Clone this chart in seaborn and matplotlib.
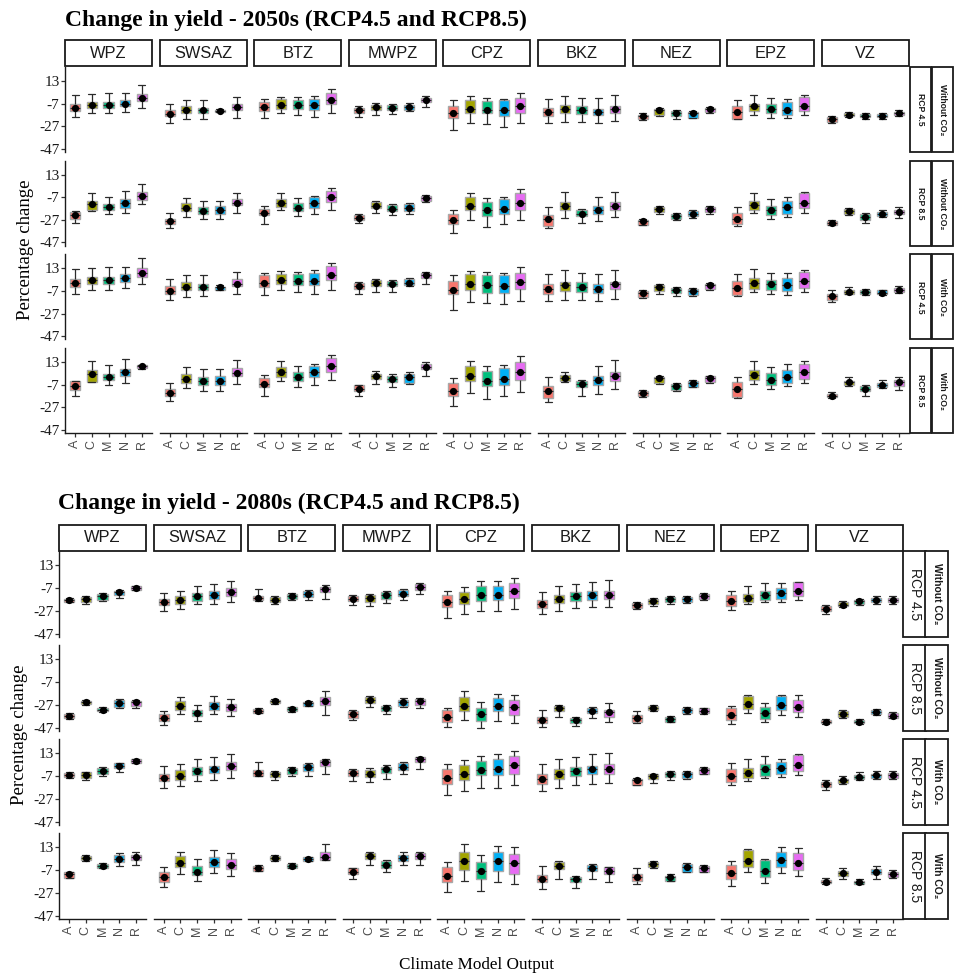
import numpy as np
import pandas as pd
import matplotlib
matplotlib.use("Agg")
import matplotlib.pyplot as plt
import seaborn as sns
from matplotlib.patches import Rectangle

# ---------------- data ----------------
ZONES = ["WPZ", "SWSAZ", "BTZ", "MWPZ", "CPZ", "BKZ", "NEZ", "EPZ", "VZ"]
MODELS = ["A", "C", "M", "N", "R"]
PALETTE = ["#F8766D", "#A3A500", "#00BF7D", "#00B0F6", "#E76BF3"]
ROW_RCP = ["RCP 4.5", "RCP 8.5", "RCP 4.5", "RCP 8.5"]
ROW_CO2 = ["Without CO\u2082", "Without CO\u2082", "With CO\u2082", "With CO\u2082"]
TITLES = ["Change in yield - 2050s (RCP4.5 and RCP8.5)",
          "Change in yield - 2080s (RCP4.5 and RCP8.5)"]
YTICKS = [13, -7, -27, -47]
YLABEL = "Percentage change"
XLABEL = "Climate Model Output"

# each tuple: (whisker low, box low, box high, whisker high, mean)  per model A,C,M,N,R
Y2050_R45_NOCO2 = [
    [(-18.8, -13.5, -7.6, 1.0, -10.5), (-15.2, -10.5, -5.5, 1.8, -8.5), (-15.8, -10.5, -5.5, 2.7, -8.5), (-14.4, -9.4, -4.0, 2.4, -7.0), (-10.8, -5.0, 1.2, 9.8, -1.7)],
    [(-23.8, -18.2, -12.3, -7.0, -16.4), (-20.8, -15.2, -9.4, -4.0, -12.9), (-20.5, -15.8, -10.5, -3.5, -12.9), (-14.7, -14.4, -12.3, -11.8, -13.5), (-19.4, -12.9, -7.0, -1.1, -10.0)],
    [(-19.6, -13.8, -5.5, -3.2, -10.0), (-15.0, -12.0, -3.2, -0.8, -7.9), (-17.0, -12.0, -3.5, -1.1, -8.2), (-18.5, -12.3, -2.6, 0.1, -7.9), (-15.0, -7.6, 2.7, 5.9, -3.5)],
    [(-18.8, -15.2, -10.5, -9.4, -12.9), (-16.7, -12.9, -7.9, -6.4, -10.0), (-16.4, -12.9, -8.5, -7.6, -10.5), (-13.5, -12.9, -7.9, -6.4, -10.0), (-10.0, -5.8, -1.7, -0.5, -4.0)],
    [(-30.5, -19.4, -8.8, -4.0, -15.2), (-24.0, -15.2, -3.5, -0.2, -11.4), (-25.5, -15.8, -5.0, -1.7, -12.9), (-27.6, -17.6, -4.0, -2.9, -12.9), (-24.0, -15.0, -2.0, 2.4, -9.4)],
    [(-24.6, -18.2, -10.5, -3.2, -14.4), (-23.2, -15.2, -7.9, -0.2, -12.0), (-23.2, -16.4, -9.4, -2.0, -12.9), (-23.8, -17.3, -11.4, -1.7, -14.4), (-22.3, -15.2, -8.8, 0.4, -11.4)],
    [(-21.7, -21.1, -16.7, -15.8, -18.2), (-18.2, -17.3, -11.4, -10.5, -12.9), (-20.8, -17.9, -13.8, -12.9, -15.2), (-20.2, -19.6, -14.9, -13.8, -15.8), (-15.8, -14.6, -10.5, -10.0, -12.0)],
    [(-20.5, -20.5, -9.4, -3.5, -14.4), (-16.7, -13.8, -7.0, 1.0, -9.4), (-19.4, -15.8, -7.6, -2.3, -11.4), (-20.0, -16.7, -5.5, -2.9, -12.3), (-16.7, -13.8, -1.1, 0.4, -8.8)],
    [(-23.8, -23.2, -18.8, -17.6, -20.8), (-18.8, -17.9, -15.2, -14.1, -16.7), (-20.5, -19.1, -16.0, -15.5, -17.6), (-20.5, -19.1, -16.0, -15.5, -17.6), (-17.9, -16.7, -14.4, -12.9, -15.2)],
]
Y2050_R85_NOCO2 = [
    [(-30.0, -26.3, -20.0, -19.1, -23.0), (-19.4, -18.5, -10.4, -2.9, -13.1), (-21.5, -18.5, -13.1, -6.5, -15.8), (-20.6, -16.1, -8.9, -1.7, -11.9), (-13.4, -9.5, -2.0, 4.9, -5.6)],
    [(-34.4, -30.5, -26.0, -20.6, -28.1), (-24.5, -19.4, -12.5, -8.0, -16.7), (-26.6, -21.5, -15.5, -10.1, -19.1), (-26.6, -21.5, -15.0, -10.1, -18.5), (-20.6, -14.0, -8.6, -2.9, -11.9)],
    [(-31.1, -23.0, -17.0, -14.6, -20.9), (-18.5, -15.5, -8.6, -3.5, -11.9), (-24.0, -19.4, -11.9, -7.7, -16.1), (-21.5, -16.1, -7.1, -5.6, -12.5), (-18.5, -11.3, -1.7, 1.0, -7.1)],
    [(-30.0, -27.5, -23.0, -22.1, -25.1), (-20.9, -16.1, -11.6, -10.4, -14.3), (-23.0, -19.4, -14.0, -13.1, -17.0), (-21.5, -19.1, -13.1, -11.9, -16.1), (-11.6, -10.4, -5.6, -4.7, -7.4)],
    [(-38.6, -30.5, -21.5, -17.9, -26.9), (-27.5, -18.5, -6.5, -3.5, -14.6), (-33.0, -24.0, -11.0, -8.0, -18.5), (-30.5, -21.5, -8.9, -6.5, -17.6), (-27.0, -17.9, -3.5, 0.4, -11.9)],
    [(-34.4, -32.3, -22.4, -15.5, -26.6), (-25.4, -18.5, -11.0, -2.6, -14.6), (-30.0, -24.0, -18.5, -17.6, -21.5), (-28.1, -21.5, -15.0, -6.5, -17.9), (-24.5, -18.5, -11.0, -2.6, -14.6)],
    [(-32.0, -31.5, -27.0, -26.0, -28.4), (-21.5, -20.0, -15.5, -14.6, -17.6), (-27.5, -26.6, -21.5, -20.6, -24.0), (-25.1, -24.0, -19.4, -18.5, -21.5), (-21.5, -20.0, -15.5, -14.6, -17.0)],
    [(-32.6, -31.0, -20.6, -15.5, -26.0), (-20.6, -17.9, -10.1, -3.5, -14.0), (-26.0, -23.0, -14.6, -8.6, -17.9), (-24.5, -21.5, -10.1, -6.5, -15.5), (-20.6, -16.1, -3.5, -2.6, -11.9)],
    [(-32.0, -31.4, -28.1, -27.5, -30.0), (-22.4, -21.5, -17.6, -16.1, -19.4), (-29.9, -27.5, -22.1, -20.6, -24.5), (-24.5, -23.6, -20.0, -17.9, -21.5), (-25.1, -22.1, -17.9, -15.5, -20.0)],
]
Y2050_R45_CO2 = [
    [(-9.3, -3.3, 3.8, 12.7, 0.2), (-5.7, -1.2, 5.6, 13.6, 2.6), (-6.3, -1.2, 5.6, 14.5, 2.6), (-4.2, 1.1, 7.7, 14.5, 4.1), (-1.0, 5.6, 13.0, 22.2, 9.1)],
    [(-14.6, -9.3, -2.7, 3.8, -6.9), (-12.2, -6.3, 1.1, 6.8, -3.3), (-11.6, -6.3, -0.4, 7.1, -3.3), (-6.3, -5.7, -3.3, -2.1, -3.6), (-10.1, -2.7, 3.8, 10.0, -0.6)],
    [(-10.7, -3.3, 6.8, 9.1, 0.2), (-5.7, -1.2, 8.3, 10.6, 2.6), (-7.8, -1.8, 7.7, 10.0, 2.0), (-9.3, -1.8, 9.1, 11.5, 2.3), (-5.7, 3.2, 15.1, 18.0, 7.4)],
    [(-9.9, -5.1, 0.2, 1.1, -2.7), (-7.5, -2.7, 2.6, 3.8, 0.2), (-7.8, -2.7, 1.7, 2.6, -0.6), (-2.7, -2.1, 3.8, 4.4, 0.2), (-1.0, 4.7, 9.1, 10.0, 6.8)],
    [(-23.5, -10.1, 1.7, 6.8, -5.7), (-16.4, -5.7, 7.7, 10.6, -1.2), (-17.6, -8.7, 6.8, 9.7, -2.1), (-19.0, -8.7, 6.8, 8.6, -2.7), (-16.1, -5.1, 9.1, 14.5, 1.1)],
    [(-16.1, -9.3, -0.4, 8.3, -4.8), (-15.2, -6.6, 1.1, 11.2, -2.1), (-15.2, -7.8, 0.8, 9.1, -3.3), (-16.1, -8.7, -1.2, 8.3, -4.8), (-14.0, -5.1, 1.1, 11.5, -1.2)],
    [(-13.1, -12.5, -7.2, -6.3, -8.7), (-9.3, -7.2, -1.8, -0.4, -3.6), (-11.6, -8.7, -4.2, -3.3, -5.7), (-11.6, -10.7, -5.1, -4.2, -6.9), (-6.3, -5.1, -0.6, 0.2, -2.1)],
    [(-11.6, -10.7, 1.7, 7.7, -4.5), (-8.1, -4.8, 4.1, 12.7, 0.2), (-10.1, -6.3, 3.2, 9.1, -1.2), (-10.7, -7.2, 4.7, 8.6, -2.1), (-7.8, -4.2, 9.7, 11.5, 1.7)],
    [(-16.4, -14.6, -9.3, -5.7, -11.6), (-10.1, -9.3, -5.7, -3.3, -7.8), (-10.7, -10.1, -6.3, -5.1, -8.1), (-10.7, -10.1, -6.3, -5.7, -8.7), (-8.7, -7.8, -4.2, -2.7, -6.3)],
]
Y2050_R85_CO2 = [
    [(-17.3, -11.3, -3.9, -3.3, -7.8), (-4.8, -4.5, 5.9, 13.9, 2.6), (-6.9, -3.0, 2.9, 10.3, 0.0), (-5.4, 0.5, 7.1, 16.0, 4.1), (7.1, 7.4, 10.3, 10.9, 9.4)],
    [(-21.7, -17.3, -10.7, -5.4, -14.3), (-9.8, -5.4, 2.6, 8.5, -1.8), (-12.2, -6.9, -0.4, 7.1, -3.9), (-12.8, -6.9, 0.5, 7.1, -3.9), (-6.0, 0.5, 8.0, 14.5, 3.5)],
    [(-17.3, -9.3, -0.9, 2.0, -6.3), (-3.3, 0.0, 8.8, 13.9, 4.1), (-9.0, -3.9, 4.1, 9.4, -0.4), (-6.9, 0.0, 10.0, 11.8, 4.1), (-3.0, 4.4, 16.3, 19.2, 9.4)],
    [(-16.7, -12.8, -7.5, -6.9, -10.4), (-6.3, -1.8, 2.9, 5.6, 0.8), (-9.3, -4.5, 0.5, 2.6, -1.8), (-6.3, -5.4, 2.9, 4.1, 0.0), (0.5, 6.5, 11.8, 13.0, 8.8)],
    [(-26.2, -17.3, -5.4, -1.5, -12.2), (-14.3, -3.9, 9.4, 13.9, 1.1), (-19.3, -8.4, 5.6, 9.4, -3.3), (-17.3, -6.9, 7.4, 10.9, -1.8), (-13.7, -3.0, 13.3, 18.3, 4.1)],
    [(-22.3, -18.8, -7.8, 0.0, -12.8), (-4.5, -3.9, 1.4, 4.1, -1.2), (-17.3, -9.3, -3.3, -2.4, -6.3), (-14.9, -6.9, 0.5, 10.0, -2.4), (-10.7, -3.3, 4.4, 14.8, 1.1)],
    [(-17.9, -17.3, -12.8, -11.9, -14.3), (-6.3, -5.4, -0.4, 1.1, -1.5), (-12.8, -11.9, -6.3, -5.4, -8.4), (-9.3, -9.0, -3.9, -3.0, -5.4), (-5.4, -4.8, 0.5, 0.8, -0.9)],
    [(-18.8, -18.2, -4.8, 0.0, -10.7), (-6.3, -3.0, 5.9, 13.9, 2.0), (-10.7, -6.9, 3.5, 8.8, -2.4), (-8.4, -5.4, 5.9, 11.5, 0.0), (-5.4, -1.8, 11.5, 13.9, 4.1)],
    [(-18.8, -17.9, -15.2, -13.1, -16.7), (-7.8, -6.9, -3.3, -0.4, -4.8), (-17.3, -12.8, -8.4, -6.9, -10.7), (-9.9, -9.3, -5.4, -3.0, -7.5), (-11.3, -7.8, -3.0, -0.4, -4.8)],
]
Y2080_R45_NOCO2 = [
    [(-19.5, -19.2, -16.3, -15.7, -17.8), (-20.7, -19.2, -14.8, -13.6, -16.6), (-18.1, -17.2, -12.1, -11.3, -14.2), (-15.7, -13.3, -9.2, -8.3, -10.7), (-8.9, -8.3, -5.3, -4.8, -6.8)],
    [(-27.0, -22.2, -16.6, -11.3, -19.5), (-25.5, -21.0, -13.6, -9.2, -17.2), (-21.0, -18.1, -11.3, -5.3, -14.2), (-21.0, -16.3, -9.8, -3.3, -12.7), (-19.2, -13.6, -6.8, -0.9, -10.4)],
    [(-18.1, -17.8, -13.6, -7.7, -15.7), (-20.7, -19.2, -14.8, -14.2, -17.2), (-17.8, -16.3, -12.1, -11.3, -13.6), (-17.8, -14.8, -9.8, -8.9, -12.1), (-16.3, -10.7, -5.9, -4.5, -7.7)],
    [(-22.2, -18.7, -13.6, -12.7, -16.3), (-23.1, -19.5, -12.7, -11.9, -15.7), (-20.1, -16.3, -10.7, -9.2, -13.3), (-17.2, -14.2, -8.9, -7.7, -11.9), (-12.1, -8.3, -3.9, -3.0, -5.9)],
    [(-32.9, -24.0, -13.3, -9.2, -19.5), (-29.6, -21.0, -10.4, -5.9, -16.6), (-27.5, -18.7, -5.3, -0.9, -13.3), (-27.0, -17.8, -4.8, -0.9, -12.7), (-25.2, -15.7, -2.4, 1.8, -9.8)],
    [(-29.6, -24.6, -17.8, -10.4, -20.7), (-27.0, -20.1, -12.7, -5.3, -16.3), (-24.6, -18.1, -10.4, -3.3, -14.2), (-24.0, -17.2, -9.8, -1.8, -13.3), (-23.4, -16.3, -9.2, -0.3, -12.7)],
    [(-25.5, -24.6, -20.1, -19.2, -21.6), (-23.1, -20.7, -16.6, -15.7, -18.1), (-20.7, -19.2, -14.8, -14.2, -16.3), (-20.1, -19.2, -14.8, -13.6, -16.3), (-17.2, -16.3, -12.1, -11.3, -13.6)],
    [(-26.0, -23.1, -13.3, -9.2, -18.7), (-21.0, -19.5, -11.9, -5.3, -15.7), (-19.5, -17.2, -9.2, -3.0, -12.7), (-19.2, -16.3, -6.8, -2.4, -11.3), (-17.8, -14.2, -1.8, -1.5, -9.8)],
    [(-29.6, -27.0, -23.1, -21.6, -25.2), (-24.0, -23.1, -19.5, -18.1, -21.6), (-21.6, -20.7, -17.2, -16.3, -18.7), (-20.7, -19.5, -15.7, -14.2, -17.8), (-20.7, -19.5, -15.7, -14.2, -17.2)],
]
Y2080_R85_NOCO2 = [
    [(-39.4, -38.8, -35.2, -34.6, -37.0), (-26.9, -26.3, -23.3, -22.7, -24.8), (-33.4, -32.8, -30.2, -29.3, -31.3), (-30.2, -28.7, -22.7, -21.8, -25.4), (-30.2, -28.4, -23.3, -22.7, -24.8)],
    [(-44.7, -41.2, -35.2, -32.2, -38.8), (-35.2, -31.6, -23.9, -20.3, -27.8), (-41.2, -36.7, -31.6, -27.2, -34.6), (-35.2, -31.6, -24.8, -19.7, -27.8), (-36.7, -32.2, -26.3, -21.8, -29.3)],
    [(-34.6, -34.3, -30.8, -30.2, -32.2), (-26.3, -25.7, -22.4, -21.8, -23.9), (-33.1, -32.8, -29.3, -28.7, -31.0), (-28.4, -27.8, -24.2, -23.3, -25.7), (-35.8, -26.9, -20.3, -15.3, -23.9)],
    [(-40.3, -38.2, -32.2, -31.6, -35.2), (-28.7, -25.7, -20.3, -19.7, -22.7), (-35.2, -32.8, -28.4, -27.2, -30.2), (-29.3, -27.8, -22.4, -20.9, -24.8), (-29.6, -26.9, -21.8, -20.9, -23.9)],
    [(-46.5, -41.8, -31.6, -29.9, -37.3), (-40.6, -32.2, -20.3, -15.3, -27.8), (-47.0, -41.2, -29.9, -24.8, -35.2), (-41.2, -32.2, -20.9, -17.4, -27.8), (-42.7, -35.8, -22.7, -18.8, -29.3)],
    [(-46.2, -42.7, -37.6, -31.6, -40.3), (-37.3, -32.2, -27.8, -27.2, -30.2), (-45.9, -42.7, -38.2, -37.6, -40.3), (-38.2, -34.6, -29.9, -29.3, -32.2), (-41.8, -37.3, -31.3, -25.7, -33.7)],
    [(-42.7, -41.8, -36.1, -32.8, -38.8), (-32.2, -31.6, -27.8, -27.2, -29.9), (-42.1, -41.8, -37.6, -36.7, -39.7), (-35.2, -34.3, -29.9, -29.3, -31.6), (-35.2, -34.6, -30.2, -29.9, -32.2)],
    [(-43.5, -40.6, -30.2, -27.8, -36.1), (-34.6, -30.8, -19.7, -18.8, -26.3), (-42.1, -39.7, -28.7, -25.7, -34.6), (-35.8, -31.3, -19.7, -18.8, -27.2), (-37.6, -33.7, -22.4, -18.8, -28.7)],
    [(-44.1, -43.3, -40.3, -39.1, -41.8), (-38.8, -37.3, -32.8, -31.6, -35.2), (-44.1, -43.3, -40.3, -39.7, -41.8), (-36.1, -35.2, -31.3, -30.5, -33.1), (-38.8, -38.2, -34.6, -33.7, -36.4)],
]
Y2080_R45_CO2 = [
    [(-8.3, -7.7, -4.2, -3.6, -5.9), (-10.1, -8.3, -3.9, -3.3, -5.9), (-6.8, -5.6, -0.3, 0.6, -2.7), (-3.3, -0.3, 4.1, 4.7, 2.1), (4.1, 4.7, 7.7, 8.3, 5.9)],
    [(-17.2, -11.3, -4.8, 1.8, -8.3), (-16.0, -10.1, -1.8, 3.2, -6.8), (-11.3, -6.2, 1.2, 7.7, -2.7), (-10.1, -4.2, 2.1, 9.4, -1.2), (-8.3, -1.8, 5.6, 12.4, 1.8)],
    [(-7.1, -6.8, -1.8, 5.0, -4.2), (-10.1, -7.7, -3.3, -2.7, -4.8), (-6.8, -4.8, -0.3, 0.6, -1.8), (-6.8, -2.4, 3.2, 4.1, 0.6), (-4.8, 1.8, 7.1, 7.7, 5.0)],
    [(-11.3, -6.8, -1.8, -1.2, -4.2), (-12.1, -7.7, -1.8, -0.3, -4.8), (-9.2, -4.2, 1.2, 2.6, -1.2), (-5.6, -1.8, 4.7, 5.3, 0.6), (-0.9, 5.6, 9.4, 10.0, 7.7)],
    [(-23.4, -13.6, -0.9, 3.5, -8.6), (-20.4, -10.1, 2.6, 7.1, -5.6), (-17.2, -6.2, 6.5, 10.9, -1.8), (-17.2, -6.2, 8.0, 12.1, -0.9), (-15.1, -4.8, 10.9, 15.4, 2.6)],
    [(-20.4, -13.6, -5.3, 3.2, -9.2), (-17.5, -9.8, -1.2, 7.7, -5.6), (-14.5, -7.1, 1.2, 10.0, -2.4), (-13.6, -5.6, 1.8, 12.1, -1.2), (-13.0, -5.3, 3.2, 13.0, -0.9)],
    [(-15.1, -14.5, -9.2, -8.3, -10.7), (-13.3, -9.8, -5.6, -4.8, -7.1), (-10.1, -7.7, -3.3, -2.4, -4.8), (-9.2, -8.6, -3.3, -2.4, -4.8), (-5.6, -4.8, -0.3, 0.6, -1.8)],
    [(-15.1, -12.1, -0.9, 4.1, -6.8), (-11.6, -8.6, -0.3, 8.0, -4.2), (-8.6, -6.8, 3.5, 10.6, -0.9), (-7.7, -4.8, 5.6, 8.0, 0.3), (-6.2, -2.7, 11.5, 12.4, 2.6)],
    [(-19.5, -16.6, -12.1, -10.1, -14.2), (-13.6, -12.7, -9.2, -6.8, -10.7), (-10.7, -9.8, -6.2, -3.9, -7.7), (-9.2, -8.3, -4.8, -2.7, -6.2), (-9.2, -8.3, -4.2, -2.4, -6.2)],
]
Y2080_R85_CO2 = [
    [(-14.4, -13.8, -9.1, -8.5, -10.8), (1.2, 1.8, 5.4, 5.9, 3.9), (-5.5, -4.9, -2.0, -1.1, -3.5), (-3.1, 0.4, 6.2, 7.7, 2.4), (-2.6, 1.8, 6.2, 9.2, 4.2)],
    [(-21.7, -17.3, -9.1, -4.6, -13.5), (-10.5, -4.0, 5.4, 9.2, -1.1), (-16.7, -11.4, -3.5, 2.4, -8.5), (-9.9, -4.0, 4.8, 10.6, -0.2), (-12.0, -6.1, 2.4, 8.3, -2.6)],
    [(-7.9, -7.6, -3.5, -2.9, -5.5), (1.2, 1.8, 5.4, 5.9, 3.9), (-5.5, -4.9, -2.0, -1.1, -3.5), (0.9, 1.2, 4.2, 4.8, 2.7), (1.8, 1.8, 9.2, 15.9, 4.8)],
    [(-15.0, -10.8, -5.5, -4.9, -8.5), (-2.3, 2.7, 7.7, 9.2, 5.4), (-9.1, -4.9, 0.9, 1.8, -2.3), (-2.6, 1.2, 6.2, 9.2, 3.9), (-2.6, 2.4, 7.7, 9.2, 5.4)],
    [(-26.1, -17.3, -4.0, -0.2, -12.0), (-16.7, -7.0, 8.6, 15.9, 1.2), (-25.2, -14.9, -0.2, 6.2, -7.9), (-17.9, -7.6, 9.2, 14.5, 0.9), (-19.6, -10.5, 7.1, 13.0, -0.5)],
    [(-23.8, -17.9, -11.4, -3.2, -14.9), (-14.9, -6.4, -0.2, 0.9, -3.5), (-22.6, -17.9, -12.9, -12.3, -15.2), (-14.9, -7.9, -2.6, -2.0, -4.9), (-17.9, -10.8, -4.6, -4.0, -7.6)],
    [(-19.4, -16.4, -10.5, -4.9, -12.9), (-5.5, -4.6, -0.2, 0.9, -2.0), (-16.7, -16.4, -12.0, -10.8, -13.5), (-9.1, -8.5, -2.0, -1.1, -4.0), (-9.1, -8.5, -3.5, -2.6, -4.9)],
    [(-20.8, -15.2, -2.6, 1.2, -9.9), (-9.1, -4.0, 10.6, 11.5, 0.9), (-18.2, -12.9, 1.8, 2.7, -7.6), (-9.4, -4.0, 9.2, 13.0, 1.8), (-12.0, -7.0, 7.7, 12.4, -0.5)],
    [(-19.7, -18.8, -15.8, -13.8, -17.6), (-14.9, -12.0, -7.9, -4.9, -9.9), (-19.7, -19.4, -16.4, -15.2, -17.9), (-14.9, -10.5, -6.4, -3.5, -8.5), (-13.8, -12.9, -9.1, -7.0, -10.8)],
]
PANELS = [
    [Y2050_R45_NOCO2, Y2050_R85_NOCO2, Y2050_R45_CO2, Y2050_R85_CO2],
    [Y2080_R45_NOCO2, Y2080_R85_NOCO2, Y2080_R45_CO2, Y2080_R85_CO2],
]

# ---------------- layout (pixels) ----------------
W, H = 955, 976
LAYOUT = [
    dict(left=65, pitch=94.6, colw=87, top=67, rpitch=93.7, rowh=85,
         strip_top=40, strip_h=26, rs1=910, rs2=932, rsw=21,
         title_x=65, title_y=20, ylab_x=25, rcp_size=6.2, rcp_bold=True, co2_size=6.2),
    dict(left=59, pitch=94.6, colw=87, top=551, rpitch=94, rowh=86,
         strip_top=525, strip_h=26, rs1=903, rs2=925, rsw=23,
         title_x=58, title_y=503, ylab_x=20, rcp_size=10, rcp_bold=False, co2_size=7.5),
]

sns.set_theme(style="white")
plt.rcParams["font.family"] = ["Liberation Sans", "DejaVu Sans"]
SERIF = ["Liberation Serif", "DejaVu Serif"]
SANS = ["Liberation Sans", "DejaVu Sans"]

fig = plt.figure(figsize=(W / 100, H / 100), dpi=100)
fig.patch.set_facecolor("white")


def fx(x):
    return x / W


def fy(y):
    return 1 - y / H


def long_frames(rowdata):
    recs, means = [], []
    for zone, boxes in zip(ZONES, rowdata):
        for model, (wlo, qlo, qhi, whi, mean) in zip(MODELS, boxes):
            vals = np.sort([wlo, qlo, mean, qhi, whi])
            for v in vals:
                recs.append((zone, model, v))
            means.append((zone, model, mean))
    return (pd.DataFrame(recs, columns=["zone", "model", "value"]),
            pd.DataFrame(means, columns=["zone", "model", "value"]))


def strip_box(x, y, w, h):
    fig.add_artist(Rectangle((fx(x), fy(y + h)), w / W, h / H, transform=fig.transFigure,
                             facecolor="white", edgecolor="#1a1a1a", lw=1.3))


for pi, L in enumerate(LAYOUT):
    # title
    fig.text(fx(L["title_x"]), fy(L["title_y"]), TITLES[pi], family=SERIF,
             weight="bold", fontsize=17, ha="left", va="center", color="black")
    # column strips
    for c, zone in enumerate(ZONES):
        x0 = L["left"] + c * L["pitch"]
        strip_box(x0, L["strip_top"], L["colw"], L["strip_h"])
        fig.text(fx(x0 + L["colw"] / 2), fy(L["strip_top"] + L["strip_h"] / 2), zone,
                 family=SANS, fontsize=11.8, ha="center", va="center", color="#1a1a1a")
    for r in range(4):
        y0 = L["top"] + r * L["rpitch"]
        box_df, mean_df = long_frames(PANELS[pi][r])
        # row strips
        strip_box(L["rs1"], y0, L["rsw"], L["rowh"])
        strip_box(L["rs2"], y0, L["rsw"], L["rowh"])
        fig.text(fx(L["rs1"] + L["rsw"] / 2), fy(y0 + L["rowh"] / 2), ROW_RCP[r],
                 family=SANS, fontsize=L["rcp_size"], rotation=-90,
                 weight="bold" if L["rcp_bold"] else "normal",
                 ha="center", va="center", color="#1a1a1a")
        fig.text(fx(L["rs2"] + L["rsw"] / 2), fy(y0 + L["rowh"] / 2), ROW_CO2[r],
                 family=SANS, fontsize=L["co2_size"], rotation=-90, weight="bold",
                 ha="center", va="center", color="#1a1a1a")
        for c, zone in enumerate(ZONES):
            x0 = L["left"] + c * L["pitch"]
            ax = fig.add_axes([fx(x0), fy(y0 + L["rowh"]), L["colw"] / W, L["rowh"] / H])
            ax.set_facecolor("white")
            sub = box_df[box_df.zone == zone]
            sns.boxplot(data=sub, x="model", y="value", hue="model", order=MODELS,
                        hue_order=MODELS, palette=PALETTE, legend=False, dodge=False,
                        whis=(0, 100), width=0.6, linewidth=0.9, linecolor="#2b2b2b",
                        saturation=1, ax=ax,
                        boxprops=dict(edgecolor="#a8a8a8", linewidth=1.0),
                        capwidths=0.42)
            msub = mean_df[mean_df.zone == zone]
            sns.stripplot(data=msub, x="model", y="value", order=MODELS, jitter=False,
                          color="black", size=5.2, ax=ax, zorder=6, linewidth=0)
            ax.set_xlim(-0.6, 4.6)
            ax.set_ylim(-50, 25.5)
            ax.set_xlabel("")
            ax.set_ylabel("")
            for s in ["top", "right", "left", "bottom"]:
                ax.spines[s].set_visible(False)
            if c == 0:
                ax.spines["left"].set_visible(True)
                ax.spines["left"].set_color("#1a1a1a")
                ax.spines["left"].set_linewidth(1.0)
                ax.set_yticks(YTICKS)
                ax.set_yticklabels([str(t) for t in YTICKS], family=SERIF,
                                   fontsize=11, color="#1a1a1a")
                ax.tick_params(axis="y", length=3, width=0.9, color="#333333", pad=1, left=True)
            else:
                ax.set_yticks([])
            if r == 3:
                ax.spines["bottom"].set_visible(True)
                ax.spines["bottom"].set_color("#1a1a1a")
                ax.spines["bottom"].set_linewidth(1.0)
                ax.set_xticks(range(5))
                ax.set_xticklabels(MODELS, rotation=90, family=SANS, fontsize=9,
                                   color="#4d4d4d")
                ax.tick_params(axis="x", length=3, width=0.9, color="#333333", pad=2, bottom=True)
            else:
                ax.set_xticks([])
    # y label
    ymid = L["top"] + (3 * L["rpitch"] + L["rowh"]) / 2
    fig.text(fx(L["ylab_x"]), fy(ymid), YLABEL, family=SERIF, fontsize=13.5,
             rotation=90, ha="center", va="center", color="black")

fig.text(fx(476), fy(965), XLABEL, family=SERIF, fontsize=12.3, ha="center",
         va="center", color="black")

fig.savefig("out.png", dpi=100, facecolor="white")
